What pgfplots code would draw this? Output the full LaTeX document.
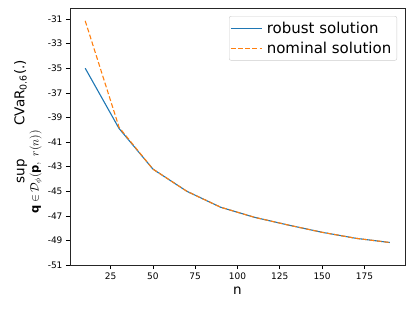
\documentclass[border=0pt]{standalone}
\usepackage{amsmath}
\usepackage{pgfplots}
\pgfplotsset{compat=1.18}
\usepackage{fontspec}
\setmainfont{DejaVu Sans}
\definecolor{mplblue}{HTML}{1F77B4}
\definecolor{mplorange}{HTML}{FF7F0E}
\begin{document}
\begin{tikzpicture}
\useasboundingbox (-70pt,-46pt) rectangle (345pt,265pt);
\begin{axis}[
  at={(0,0)}, anchor=south west,
  width=335pt, height=257pt, scale only axis,
  xmin=1, xmax=199, ymin=-51, ymax=-30.1,
  xtick={25,50,75,100,125,150,175},
  ytick={-51,-49,-47,-45,-43,-41,-39,-37,-35,-33,-31},
  tick align=outside, major tick length=4pt,
  xtick pos=bottom, ytick pos=left,
  tick style={black, line width=0.6pt},
  axis line style={black!85, line width=0.6pt},
  ticklabel style={font=\fontsize{9}{10}\selectfont},
  /pgf/number format/assume math mode=true,
  xlabel={n},
  xlabel style={font=\fontsize{13.5}{15}\selectfont, yshift=-1pt},
  ylabel={$\mathop{\text{sup}}\limits_{\text{\fontsize{11.5}{12}\selectfont$\textbf{q}\,{\in}\,\mathcal{D}_{\phi}(\textbf{p},\ r(n))$}}$ CVaR$_{\text{0.6}}$(.)},
  ylabel style={font=\fontsize{13.5}{15}\selectfont, yshift=-2.5pt},
  legend style={at={(1,1)}, anchor=north east, xshift=-8pt, yshift=-8pt,
    draw=black!20, rounded corners=2pt, fill=white,
    font=\fontsize{15}{17}\selectfont, inner xsep=1pt, inner ysep=2pt,
    nodes={inner xsep=4.5pt, inner ysep=3.6pt}},
  legend cell align=left,
  legend image code/.code={\draw[#1] (0pt,0pt) -- (31pt,0pt);},
]
\addplot[mplblue, line width=1.1pt] coordinates {
 (10,-35.0) (30,-39.9) (50,-43.2) (70,-45.0) (90,-46.3) (110,-47.12) (130,-47.75) (150,-48.34) (170,-48.83) (190,-49.17)};
\addlegendentry{robust solution}
\addplot[mplorange, line width=1.1pt, dash pattern=on 4.8pt off 2.4pt] coordinates {
 (10,-31.15) (30,-39.8) (50,-43.2) (70,-45.0) (90,-46.3) (110,-47.12) (130,-47.75) (150,-48.34) (170,-48.83) (190,-49.17)};
\addlegendentry{nominal solution}
\end{axis}
\end{tikzpicture}
\end{document}
